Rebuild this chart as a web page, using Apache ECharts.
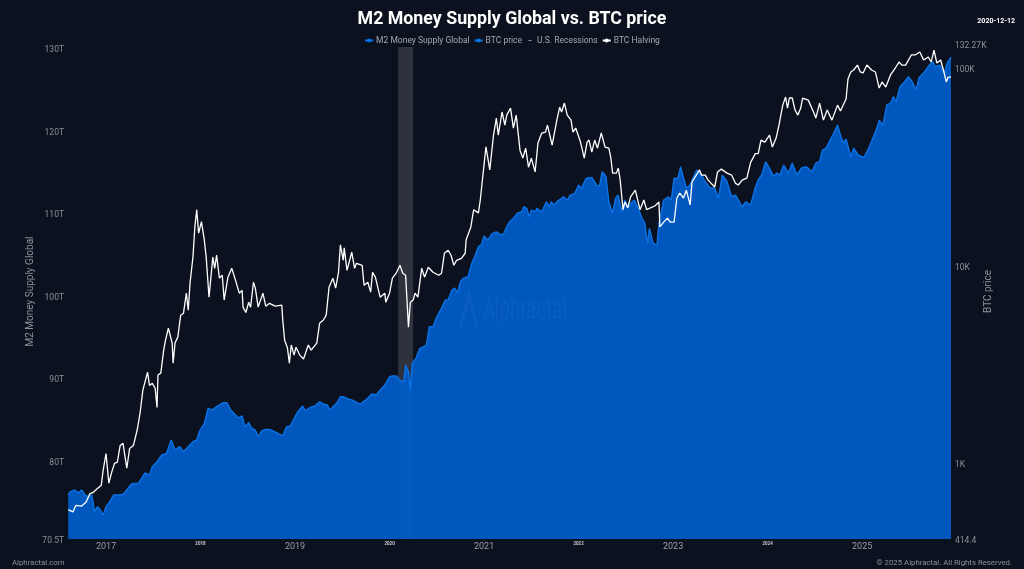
<!DOCTYPE html>
<html>
<head>
<meta charset="utf-8">
<title>M2 Money Supply Global vs. BTC price</title>
<script src="https://cdn.jsdelivr.net/npm/echarts@6/dist/echarts.min.js"></script>
<style>
html,body{margin:0;padding:0;background:#0b111e;}
#chart{width:1024px;height:569px;}
</style>
</head>
<body>
<div id="chart"></div>
<script>
'use strict'

// x positions are decimal years, M2 in trillions, BTC in dollars
var m2Years = [2016.60,2016.62,2016.67,2016.71,2016.74,2016.78,2016.81,2016.85,2016.88,2016.91,2016.94,2016.97,2017.00,2017.04,2017.08,2017.14,2017.18,2017.22,2017.27,2017.34,2017.38,2017.41,2017.46,2017.49,2017.54,2017.59,2017.64,2017.69,2017.73,2017.78,2017.82,2017.87,2017.92,2017.96,2017.99,2018.04,2018.08,2018.12,2018.17,2018.24,2018.28,2018.32,2018.37,2018.40,2018.44,2018.47,2018.51,2018.54,2018.58,2018.61,2018.65,2018.70,2018.75,2018.81,2018.87,2018.91,2018.95,2019.00,2019.03,2019.08,2019.11,2019.16,2019.21,2019.26,2019.30,2019.34,2019.37,2019.41,2019.44,2019.48,2019.51,2019.56,2019.60,2019.69,2019.77,2019.81,2019.86,2019.90,2019.95,2020.00,2020.03,2020.07,2020.11,2020.15,2020.17,2020.20,2020.22,2020.24,2020.28,2020.32,2020.36,2020.39,2020.42,2020.46,2020.50,2020.55,2020.59,2020.62,2020.66,2020.69,2020.72,2020.75,2020.78,2020.83,2020.87,2020.90,2020.94,2020.97,2021.00,2021.04,2021.08,2021.13,2021.18,2021.21,2021.24,2021.27,2021.31,2021.35,2021.40,2021.42,2021.45,2021.48,2021.50,2021.54,2021.56,2021.61,2021.66,2021.69,2021.71,2021.74,2021.77,2021.84,2021.88,2021.91,2021.96,2022.00,2022.03,2022.08,2022.14,2022.19,2022.22,2022.25,2022.29,2022.32,2022.36,2022.39,2022.42,2022.44,2022.46,2022.49,2022.53,2022.55,2022.59,2022.63,2022.67,2022.70,2022.73,2022.75,2022.79,2022.83,2022.85,2022.90,2022.95,2022.98,2023.01,2023.05,2023.08,2023.11,2023.14,2023.18,2023.21,2023.25,2023.30,2023.34,2023.39,2023.44,2023.48,2023.52,2023.57,2023.62,2023.66,2023.69,2023.73,2023.77,2023.82,2023.87,2023.90,2023.94,2023.98,2024.03,2024.06,2024.10,2024.13,2024.17,2024.22,2024.26,2024.31,2024.36,2024.41,2024.47,2024.51,2024.55,2024.58,2024.62,2024.66,2024.69,2024.74,2024.77,2024.80,2024.83,2024.88,2024.91,2024.96,2025.02,2025.07,2025.12,2025.16,2025.18,2025.22,2025.26,2025.30,2025.33,2025.36,2025.40,2025.45,2025.49,2025.53,2025.57,2025.60,2025.65,2025.71,2025.75,2025.77,2025.82,2025.87,2025.90,2025.94];
var m2Values = [75.84,76.21,76.45,76.12,76.45,75.84,75.64,75.84,73.82,74.43,74.02,73.42,74.43,75.03,75.84,75.84,75.93,76.45,77.18,77.26,77.90,78.51,78.27,79.27,79.88,80.69,80.90,82.51,81.30,81.70,81.09,81.70,82.30,82.51,83.60,84.53,86.35,86.15,86.55,87.03,87.03,86.15,85.54,85.18,85.42,84.12,84.61,83.96,83.72,82.91,83.64,83.81,83.72,83.36,83.00,84.12,84.21,85.33,85.94,86.63,86.06,86.47,86.63,87.15,86.87,86.75,86.15,86.63,86.96,87.76,87.76,87.48,87.36,86.87,87.56,88.08,87.96,88.57,89.17,90.18,90.27,90.27,89.78,89.57,91.60,90.79,88.57,91.80,92.41,93.62,93.82,94.02,96.24,96.24,97.45,98.51,99.48,99.48,100.69,100.93,100.33,101.69,102.11,102.30,103.92,104.73,105.94,106.14,107.23,106.75,107.48,107.75,107.35,107.56,108.36,108.97,109.38,109.98,110.18,110.79,110.59,109.57,110.38,110.18,110.59,110.18,111.39,110.79,111.39,110.99,111.39,112.00,111.60,112.20,112.41,113.41,113.01,114.23,114.35,113.41,113.21,115.03,114.42,111.39,109.98,111.80,112.20,110.99,110.18,111.60,110.63,111.20,111.60,110.63,109.42,108.81,106.35,108.17,106.35,106.14,108.81,111.60,112.00,111.60,114.23,114.23,115.63,114.26,113.05,113.41,114.26,115.23,114.63,113.81,113.05,113.05,111.84,114.63,113.81,112.00,112.20,111.60,110.78,111.39,110.99,113.11,114.02,114.75,116.24,115.23,114.51,114.87,114.63,115.84,114.87,116.08,114.63,115.48,115.63,115.03,116.08,116.24,117.66,117.90,118.87,119.47,120.69,119.47,118.51,118.99,116.81,117.90,117.05,116.77,117.90,119.27,120.44,121.29,120.69,123.11,123.35,124.12,123.51,125.33,125.93,126.54,125.93,124.93,126.38,126.99,127.96,128.36,127.75,127.96,126.99,128.20,128.93];

var btcYears = [2016.60,2016.62,2016.65,2016.68,2016.70,2016.74,2016.79,2016.83,2016.86,2016.90,2016.95,2016.97,2017.00,2017.03,2017.06,2017.09,2017.12,2017.15,2017.18,2017.22,2017.25,2017.29,2017.33,2017.36,2017.39,2017.44,2017.46,2017.49,2017.52,2017.54,2017.55,2017.58,2017.61,2017.63,2017.66,2017.70,2017.71,2017.73,2017.76,2017.79,2017.82,2017.85,2017.87,2017.89,2017.92,2017.94,2017.96,2017.98,2017.99,2018.01,2018.04,2018.06,2018.09,2018.13,2018.15,2018.17,2018.20,2018.23,2018.25,2018.29,2018.33,2018.37,2018.41,2018.44,2018.45,2018.48,2018.51,2018.53,2018.56,2018.58,2018.61,2018.66,2018.69,2018.73,2018.79,2018.86,2018.87,2018.89,2018.92,2018.94,2018.96,2018.99,2019.01,2019.05,2019.09,2019.14,2019.17,2019.23,2019.26,2019.30,2019.33,2019.36,2019.40,2019.43,2019.46,2019.48,2019.51,2019.52,2019.55,2019.60,2019.63,2019.65,2019.71,2019.73,2019.77,2019.80,2019.82,2019.85,2019.90,2019.95,2019.96,2020.00,2020.03,2020.07,2020.11,2020.14,2020.17,2020.20,2020.22,2020.25,2020.27,2020.30,2020.34,2020.37,2020.41,2020.46,2020.52,2020.55,2020.58,2020.62,2020.65,2020.68,2020.71,2020.76,2020.80,2020.81,2020.86,2020.89,2020.94,2020.96,2020.99,2021.02,2021.06,2021.10,2021.13,2021.15,2021.19,2021.22,2021.24,2021.28,2021.31,2021.34,2021.38,2021.41,2021.44,2021.47,2021.50,2021.54,2021.57,2021.61,2021.65,2021.67,2021.69,2021.72,2021.74,2021.77,2021.80,2021.82,2021.85,2021.88,2021.92,2021.94,2021.97,2022.02,2022.06,2022.09,2022.11,2022.14,2022.17,2022.20,2022.24,2022.28,2022.32,2022.34,2022.36,2022.40,2022.42,2022.44,2022.47,2022.49,2022.52,2022.55,2022.60,2022.65,2022.69,2022.72,2022.81,2022.85,2022.86,2022.90,2022.94,2022.97,2023.01,2023.04,2023.07,2023.11,2023.14,2023.18,2023.20,2023.23,2023.28,2023.30,2023.34,2023.37,2023.44,2023.47,2023.51,2023.57,2023.62,2023.66,2023.69,2023.73,2023.78,2023.82,2023.87,2023.90,2023.93,2023.97,2024.02,2024.05,2024.09,2024.12,2024.14,2024.16,2024.19,2024.21,2024.23,2024.26,2024.29,2024.32,2024.35,2024.37,2024.43,2024.49,2024.51,2024.55,2024.57,2024.59,2024.63,2024.68,2024.74,2024.77,2024.83,2024.85,2024.88,2024.91,2024.95,2024.98,2025.01,2025.05,2025.10,2025.14,2025.18,2025.21,2025.25,2025.30,2025.35,2025.39,2025.42,2025.46,2025.52,2025.56,2025.61,2025.65,2025.70,2025.73,2025.76,2025.79,2025.83,2025.86,2025.89,2025.91,2025.94];
var btcPrices = [584,575,568,613,600,607,637,703,711,740,776,923,1122,794,901,1000,1015,1232,1262,945,1190,1232,1475,1793,2345,2890,2480,2540,2400,1920,2800,2860,3740,4200,4830,4060,3210,4060,4350,5620,5750,7260,5960,8250,11050,15700,19200,14600,14300,16700,13500,11050,6930,11050,9700,11300,8650,8950,6700,8750,9700,8450,7260,7500,6170,5800,6530,6170,8250,7700,6170,7260,6240,6450,6240,6310,5310,4200,3830,3210,3970,3530,3870,3530,3370,3970,3740,4060,5120,5310,5620,7790,8650,7700,9260,12740,10650,12300,9470,11700,9700,10280,10050,7970,8250,7350,9260,8750,6930,7260,6530,7260,8650,9160,10050,9160,8950,4890,6530,6700,7260,6930,9700,8750,9820,9260,8950,9160,11560,11970,11300,10050,10650,10900,11560,13500,15700,19200,18500,21500,29400,39900,30500,45800,55800,45800,59900,51400,57800,62700,49700,57800,38400,35000,39300,31500,35000,29800,41700,46900,47400,51400,46900,40700,45800,54500,63400,59900,66500,57800,54500,47400,49700,42200,35000,42200,43200,37500,43200,39300,46900,39800,39300,35400,29400,29400,31200,27100,19200,21000,19600,22300,24100,19200,21500,19200,20100,21000,15700,16600,17400,16600,16600,22000,23300,22000,24100,20300,26500,28000,30500,28700,28700,27100,25000,29800,30800,29400,28700,26100,25600,27100,27700,33300,36900,36900,43200,42200,45800,39800,44200,51400,51400,64900,71300,62700,70500,70500,61300,57800,62700,70500,68800,59200,55800,66500,66500,54500,61300,54500,64900,60600,69700,87900,95500,97700,103500,95500,94400,103500,97700,95500,79200,85000,80100,92200,100000,107200,103500,103500,116400,116400,120500,109800,113700,107200,123300,106000,109800,97700,85000,90000,90000];

var recessionYears = [2020.09, 2020.25];
var recessionTop = 130.14;
var xTicks = [2017,2018,2019,2020,2021,2022,2023,2024,2025];
var m2Ticks = [70.51,80,90,100,110,120,130];
var btcTicks = [414.4,1000,10000,100000,132270];
var btcTickLabels = {414.4:'414.4',1000:'1K',10000:'10K',100000:'100K',132270:'132.27K'};

var BG = '#0b111e';
var AXIS_TEXT = '#8d929c';
var BLUE = '#0a72e6';
var FONT = 'Roboto';

function zip(xs, ys){
    return xs.map(function(x, i){ return [x, ys[i]]; });
}

var chart = echarts.init(document.getElementById('chart'));

chart.setOption({
    animation:false,
    backgroundColor:BG,
    textStyle:{fontFamily:FONT},
    title:{
        text:'M2 Money Supply Global vs. BTC price',
        left:'center',
        top:6,
        textStyle:{color:'#ffffff',fontSize:17.8,fontWeight:'bold',fontFamily:FONT}
    },
    legend:{
        top:31,
        left:'center',
        itemWidth:8,
        itemHeight:5,
        itemGap:4,
        textStyle:{color:'#a3a8b1',fontSize:8.5,fontFamily:FONT,padding:[0,0,0,-2]},
        data:[
            {name:'M2 Money Supply Global'},
            {name:'BTC price',itemStyle:{color:BLUE},lineStyle:{color:BLUE}},
            {name:'U.S. Recessions',icon:'path://M0,0 L0,0 M3,2 L7,2 L7,3 L3,3 Z M10,5 L10,5',itemStyle:{color:'#a3a8b1'},lineStyle:{width:0}},
            {name:'BTC Halving'}
        ]
    },
    grid:{left:68,right:73,top:44,bottom:30},
    xAxis:{
        type:'value',
        min:2016.598,
        max:2025.94,
        axisLine:{show:false},
        axisTick:{show:false},
        splitLine:{show:false},
        axisLabel:{
            customValues:xTicks,
            margin:1,
            hideOverlap:false,
            formatter:function(v){
                return v % 2 === 1 ? '{big|' + v + '}' : '{small|' + v + '}';
            },
            rich:{
                big:{color:'#9a9ea8',fontSize:9,fontFamily:FONT,padding:[2,0,0,0]},
                small:{color:'#c9ccd2',fontSize:4.5,fontWeight:'bold',fontFamily:FONT,padding:[1.5,0,0,0]}
            }
        }
    },
    yAxis:[
        {
            type:'value',
            min:70.51,
            max:130.51,
            name:'M2 Money Supply Global',
            nameLocation:'middle',
            nameMoveOverlap:false,
            nameGap:33,
            nameTextStyle:{color:AXIS_TEXT,fontSize:10,fontFamily:FONT},
            axisLine:{show:false},
            axisTick:{show:false},
            splitLine:{show:false},
            axisLabel:{
                customValues:m2Ticks,
                margin:4,
                color:AXIS_TEXT,
                fontSize:8.5,
                verticalAlign:'top',
                lineHeight:4,
                formatter:function(v){
                    return (v === 70.51 ? '70.5' : v) + 'T';
                }
            }
        },
        {
            type:'log',
            logBase:10,
            min:414.4,
            max:132270,
            position:'right',
            name:'BTC price',
            nameLocation:'middle',
            nameMoveOverlap:false,
            nameGap:32,
            nameTextStyle:{color:AXIS_TEXT,fontSize:10,fontFamily:FONT},
            axisLine:{show:false},
            axisTick:{show:false},
            splitLine:{show:false},
            axisLabel:{
                customValues:btcTicks,
                margin:4,
                color:AXIS_TEXT,
                fontSize:8.5,
                verticalAlign:'top',
                lineHeight:4,
                formatter:function(v){
                    return btcTickLabels[v];
                }
            }
        }
    ],
    series:[
        {
            name:'U.S. Recessions',
            type:'line',
            yAxisIndex:0,
            z:1,
            data:[],
            silent:true,
            symbol:'none',
            lineStyle:{color:'#a3a8b1',width:0},
            markArea:{
                silent:true,
                itemStyle:{color:'rgba(255,255,255,0.14)'},
                data:[[{xAxis:recessionYears[0],yAxis:recessionTop},{xAxis:recessionYears[1],yAxis:m2Ticks[0]}]]
            }
        },
        {
            name:'M2 Money Supply Global',
            type:'line',
            yAxisIndex:0,
            z:2,
            data:zip(m2Years, m2Values),
            symbol:'circle',
            symbolSize:4,
            showSymbol:false,
            itemStyle:{color:BLUE},
            lineStyle:{color:BLUE,width:1.4},
            areaStyle:{color:'#005cc6',opacity:0.95,origin:'start'}
        },
        {
            name:'BTC price',
            type:'line',
            yAxisIndex:1,
            z:3,
            data:zip(btcYears, btcPrices),
            symbol:'circle',
            symbolSize:4,
            showSymbol:false,
            itemStyle:{color:'#ffffff'},
            lineStyle:{color:'#ffffff',width:1.3}
        },
        {
            name:'BTC Halving',
            type:'line',
            yAxisIndex:0,
            data:[],
            symbol:'circle',
            symbolSize:4,
            itemStyle:{color:'#ffffff'},
            lineStyle:{color:'#ffffff'}
        }
    ],
    graphic:[
        {type:'text',right:9,top:18,style:{text:'2020-12-12',fill:'#ffffff',font:'bold 7px Roboto'}},
        {type:'text',left:12,top:559,style:{text:'Alphractal.com',fill:AXIS_TEXT,font:'7.8px Roboto'}},
        {type:'text',right:12,top:559,style:{text:'© 2025 Alphractal. All Rights Reserved.',fill:AXIS_TEXT,font:'7.8px Roboto'}},
        // faint watermark over the area
        {type:'text',x:483,y:295,scaleX:0.58,z:10,silent:true,style:{text:'Alphractal',fill:'rgba(255,255,255,0.045)',font:'32px Roboto'}},
        {type:'polyline',z:10,silent:true,shape:{points:[[460,328],[469,295],[477,328]]},style:{fill:null,stroke:'rgba(255,255,255,0.045)',lineWidth:3}}
    ]
});
</script>
</body>
</html>
